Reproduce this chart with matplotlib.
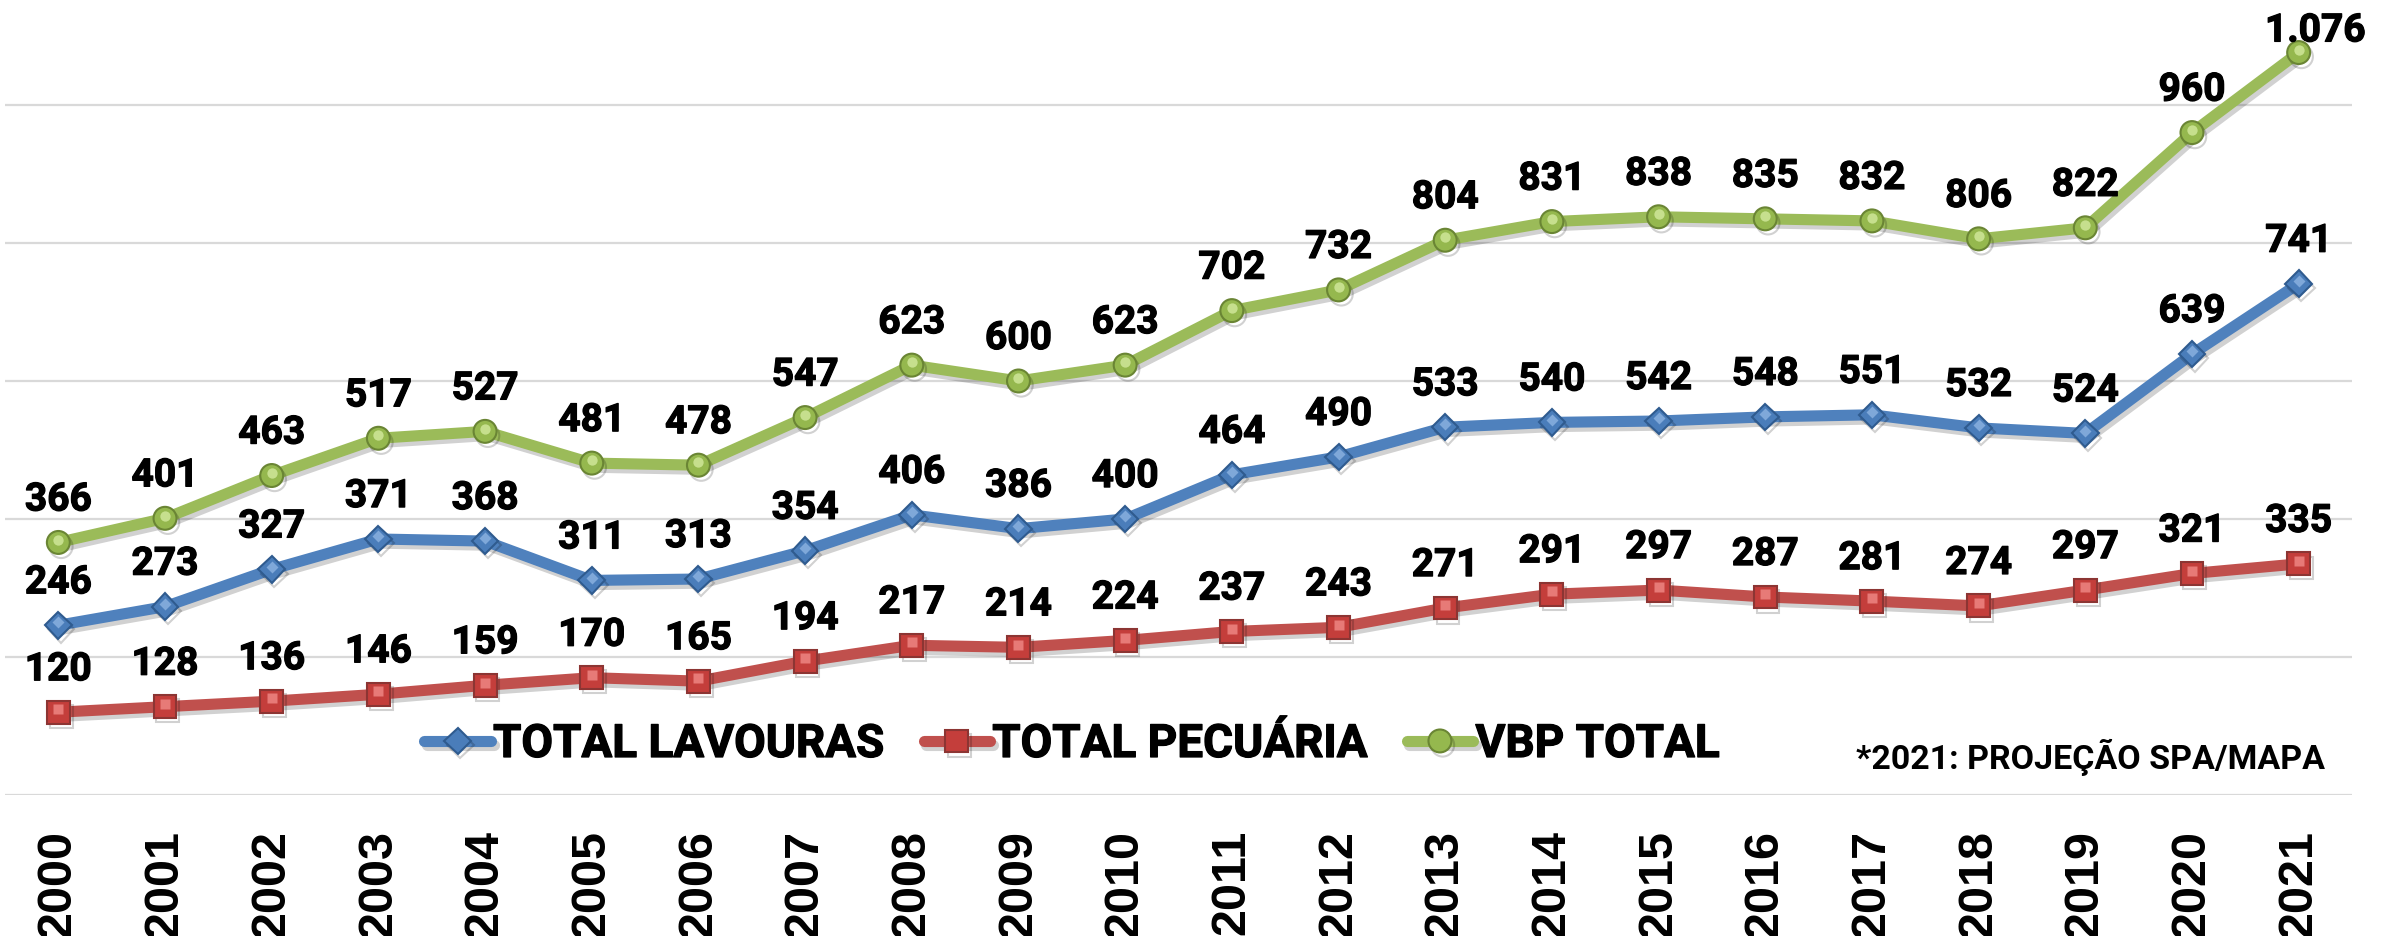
import matplotlib.pyplot as plt
import matplotlib.patheffects as pe
from matplotlib.transforms import ScaledTranslation

# VBP (R$ bilhões) por ano
years = [str(y) for y in range(2000, 2022)]
lavouras = [246, 273, 327, 371, 368, 311, 313, 354, 406, 386, 400,
            464, 490, 533, 540, 542, 548, 551, 532, 524, 639, 741]
pecuaria = [120, 128, 136, 146, 159, 170, 165, 194, 217, 214, 224,
            237, 243, 271, 291, 297, 287, 281, 274, 297, 321, 335]
vbp_total = [366, 401, 463, 517, 527, 481, 478, 547, 623, 600, 623,
             702, 732, 804, 831, 838, 835, 832, 806, 822, 960, 1076]
names = ["TOTAL LAVOURAS", "TOTAL PECUÁRIA", "VBP TOTAL"]
note = "*2021: PROJEÇÃO SPA/MAPA"

W, H = 2394, 937
fig = plt.figure(figsize=(W / 100, H / 100), dpi=100)
ax = fig.add_axes([5 / W, (H - 796) / H, (2352 - 5) / W, 796 / H])

styles = [
    dict(color="#4F81BD", marker="D", ms=13.5, mfc="#4A7DBA", mec="#2F5B8F", hl="#8DB4E2"),
    dict(color="#C0504D", marker="s", ms=16.5, mfc="#C43E3B", mec="#8C3533", hl="#F08A87"),
    dict(color="#9BBB59", marker="o", ms=16.5, mfc="#95B84E", mec="#6A8534", hl="#D3EA9E"),
]
shadow = [pe.SimpleLineShadow(offset=(2, -3), shadow_color="k", alpha=0.18), pe.Normal()]
heavy = [pe.withStroke(linewidth=0.9, foreground="black")]
lift = ScaledTranslation(0, 2 / 72, fig.dpi_scale_trans)

x = range(len(years))
handles = []
for series, name, st in zip([lavouras, pecuaria, vbp_total], names, styles):
    (ln,) = ax.plot(x, series, color=st["color"], lw=8, marker=st["marker"],
                    ms=st["ms"], mfc=st["mfc"], mec=st["mec"], mew=1.5,
                    solid_capstyle="round", path_effects=shadow, label=name)
    ax.plot(x, series, ls="none", marker=st["marker"], ms=st["ms"] * 0.45,
            mfc=st["hl"], mec="none", alpha=0.8, transform=ax.transData + lift)
    handles.append(ln)

# rótulos de dados
label_shift = {(2, 21): (12, 8)}
for k, series in enumerate([lavouras, pecuaria, vbp_total]):
    for i, v in enumerate(series):
        dx, dy = label_shift.get((k, i), (0, 23))
        ax.annotate(f"{v:,}".replace(",", "."), (i, v), xytext=(dx, dy),
                    textcoords="offset points", ha="center", va="baseline",
                    fontsize=28, fontweight="bold", family="Roboto",
                    path_effects=heavy)

ax.set_xlim(-0.5, len(years) - 0.5)
ax.set_ylim(0, 1153.6)
ax.set_yticks(range(0, 1001, 200))
ax.grid(axis="y", color="#D9D9D9", lw=1.6)
ax.set_axisbelow(True)
for s in ax.spines.values():
    s.set_visible(False)
ax.tick_params(axis="y", left=False, labelleft=False)
ax.set_xticks(list(x), years, rotation=90, fontsize=35, fontweight="bold",
              family="Liberation Sans")
ax.tick_params(axis="x", length=0, pad=24.5)

leg = fig.legend(handles=handles, loc="center", bbox_to_anchor=(1072 / W, 1 - 745 / H),
                 ncol=3, frameon=False, handlelength=1.45, handletextpad=0.05,
                 columnspacing=0.85, prop=dict(family="Roboto", weight="bold", size=33))
for t in leg.get_texts():
    t.set_path_effects(heavy)
fig.text(2090 / W, 1 - 757 / H, note, ha="center", va="center",
         fontsize=24.5, fontweight="bold", family="Roboto")

fig.savefig("out.png", dpi=100)
